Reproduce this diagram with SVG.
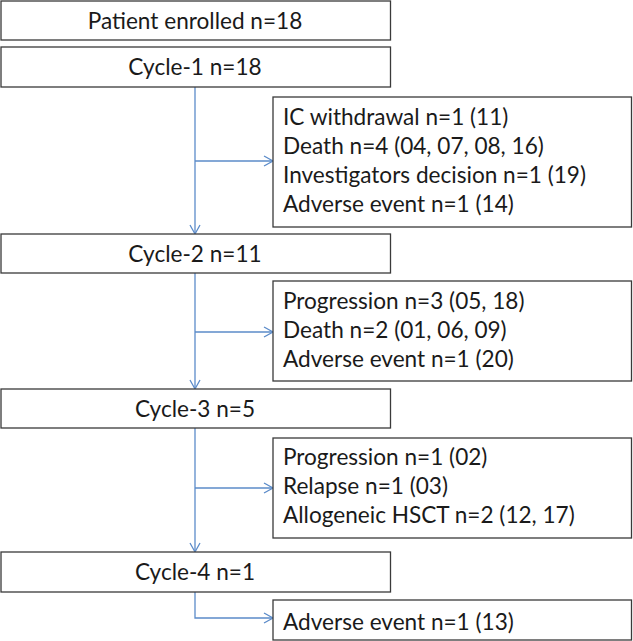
<svg xmlns="http://www.w3.org/2000/svg" width="633" height="641" viewBox="0 0 633 641">
<style>
.box{fill:#fff;stroke:#3a3a3a;stroke-width:1.3}
.t{font-family:Lato,"Open Sans",sans-serif;font-size:22.6px;fill:#1a1a1a}
.c{text-anchor:middle}
.ln{fill:none;stroke:#5b8bc9;stroke-width:1.3}
</style>
<defs>
<marker id="ah" markerWidth="12" markerHeight="12" refX="10" refY="6" orient="auto" markerUnits="userSpaceOnUse">
<path d="M1,1 L10,6 L1,11" fill="none" stroke="#5b8bc9" stroke-width="1.3"/>
</marker>
</defs>
<rect width="633" height="641" fill="#fff"/>
<g id="connectors">
<path class="ln" d="M195,87 V234" marker-end="url(#ah)"/>
<path class="ln" d="M195,161 H273" marker-end="url(#ah)"/>
<path class="ln" d="M195,273 V389" marker-end="url(#ah)"/>
<path class="ln" d="M195,332 H273" marker-end="url(#ah)"/>
<path class="ln" d="M195,428 V552" marker-end="url(#ah)"/>
<path class="ln" d="M195,488 H273" marker-end="url(#ah)"/>
<path class="ln" d="M195,592 V618 H273" marker-end="url(#ah)"/>
</g>
<g id="enrolled"><rect class="box" x="1" y="1" width="389.5" height="39"/><text class="t c" x="195" y="28.5">Patient enrolled n=18</text></g>
<g id="cycle1"><rect class="box" x="1" y="47" width="389.5" height="40"/><text class="t c" x="195" y="75">Cycle-1 n=18</text></g>
<g id="exit1"><rect class="box" x="273" y="97" width="358.5" height="130"/>
<text class="t" x="283" y="124.5">IC withdrawal n=1 (11)</text>
<text class="t" x="283" y="153.5">Death n=4 (04, 07, 08, 16)</text>
<text class="t" x="283" y="182.5">Investigators decision n=1 (19)</text>
<text class="t" x="283" y="211.5">Adverse event n=1 (14)</text></g>
<g id="cycle2"><rect class="box" x="1" y="234" width="389.5" height="39"/><text class="t c" x="195" y="261.5">Cycle-2 n=11</text></g>
<g id="exit2"><rect class="box" x="273" y="281" width="358.5" height="100"/>
<text class="t" x="283" y="308.5">Progression n=3 (05, 18)</text>
<text class="t" x="283" y="337.5">Death n=2 (01, 06, 09)</text>
<text class="t" x="283" y="366.5">Adverse event n=1 (20)</text></g>
<g id="cycle3"><rect class="box" x="1" y="389" width="389.5" height="39"/><text class="t c" x="195" y="416.5">Cycle-3 n=5</text></g>
<g id="exit3"><rect class="box" x="273" y="438" width="358.5" height="100"/>
<text class="t" x="283" y="465">Progression n=1 (02)</text>
<text class="t" x="283" y="494">Relapse n=1 (03)</text>
<text class="t" x="283" y="523">Allogeneic HSCT n=2 (12, 17)</text></g>
<g id="cycle4"><rect class="box" x="1" y="552" width="389.5" height="40"/><text class="t c" x="195" y="580">Cycle-4 n=1</text></g>
<g id="exit4"><rect class="box" x="273" y="600" width="358.5" height="40"/>
<text class="t" x="283" y="630">Adverse event n=1 (13)</text></g>
</svg>
